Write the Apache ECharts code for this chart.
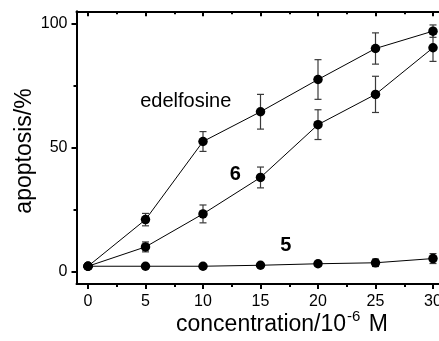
<!DOCTYPE html>
<html>
<head>
<meta charset="utf-8">
<script src="https://cdn.jsdelivr.net/npm/echarts@6/dist/echarts.min.js"></script>
<style>
html,body{margin:0;padding:0;background:#fff;overflow:hidden;}
#c{width:452px;height:341px;}
</style>
</head>
<body>
<div id="c"></div>
<script>
// ---- data ----
const conc = [0, 5, 10, 15, 20, 25, 30];
const edelfosine = [2.2, 21, 52.5, 64.5, 77.5, 90, 97];
const edelfosineErr = [0, 2.5, 4, 7, 8, 6.3, 2.5];
const comp6 = [2.2, 10, 23.3, 38, 59.3, 71.5, 90.3];
const comp6Err = [0, 2, 3.6, 4.2, 6, 7.3, 5.5];
const comp5 = [2.2, 2.2, 2.2, 2.6, 3.2, 3.6, 5.3];
const comp5Err = [0, 0.6, 0.5, 0.7, 0.9, 1.5, 2];
const xMajorTicks = [0, 5, 10, 15, 20, 25, 30];
const xMinorTicks = [2.5, 7.5, 12.5, 17.5, 22.5, 27.5];
const yMajorTicks = [0, 50, 100];
const yMinorTicks = [25, 75];
const noteText = ['edelfosine', '6', '5'];
const noteX = [8.5, 12.8, 17.2];
const noteY = [68.7, 39.3, 10.5];
const noteBold = [false, true, true];

const FONT = '"Liberation Sans", Arial, sans-serif';
const chart = echarts.init(document.getElementById('c'), null, {renderer: 'canvas'});

function pairs(vals) { return conc.map((x, i) => [x, vals[i]]); }
function errData(vals, errs) {
  const out = [];
  conc.forEach((x, i) => { if (errs[i] > 0) out.push([x, vals[i] - errs[i], vals[i] + errs[i]]); });
  return out;
}
function errSeries(vals, errs) {
  return {
    type: 'custom', xAxisIndex: 0, yAxisIndex: 0, z: 1,
    data: errData(vals, errs),
    renderItem: function (params, api) {
      const x = api.value(0);
      const lo = api.coord([x, api.value(1)]);
      const hi = api.coord([x, api.value(2)]);
      const hw = 3.5;
      const st = {stroke: '#3a3a3a', lineWidth: 1.2};
      return {type: 'group', children: [
        {type: 'line', shape: {x1: lo[0], y1: lo[1], x2: hi[0], y2: hi[1]}, style: st},
        {type: 'line', shape: {x1: lo[0] - hw, y1: lo[1], x2: lo[0] + hw, y2: lo[1]}, style: st},
        {type: 'line', shape: {x1: hi[0] - hw, y1: hi[1], x2: hi[0] + hw, y2: hi[1]}, style: st}
      ]};
    }
  };
}
function lineSeries(vals) {
  return {
    type: 'line', xAxisIndex: 0, yAxisIndex: 0, z: 3,
    data: pairs(vals), symbol: 'circle', symbolSize: 9.5,
    itemStyle: {color: '#000'}, lineStyle: {color: '#000', width: 1},
    animation: false
  };
}
const X0 = -1, X1 = 31, Y0 = -5, Y1 = 105;
function xAxis(pos, ticks, len, inside, showLine, showLabel) {
  return {
    type: 'value', position: pos, min: X0, max: X1, gridIndex: 0,
    splitLine: {show: false},
    axisLine: {show: showLine, onZero: false, lineStyle: {color: '#000', width: 2}},
    axisTick: {show: true, inside: inside, length: len, customValues: ticks, lineStyle: {color: '#000', width: 2}},
    axisLabel: showLabel ? {show: true, customValues: ticks, color: '#000', fontFamily: FONT, fontSize: 16, margin: 9} : {show: false}
  };
}
function yAxis(pos, ticks, len, inside, showLine, showLabel) {
  return {
    type: 'value', position: pos, min: Y0, max: Y1, gridIndex: 0,
    splitLine: {show: false},
    axisLine: {show: showLine, onZero: false, lineStyle: {color: '#000', width: 2}},
    axisTick: {show: true, inside: inside, length: len, customValues: ticks, lineStyle: {color: '#000', width: 2}},
    axisLabel: showLabel ? {show: true, customValues: ticks, color: '#000', fontFamily: FONT, fontSize: 16, margin: 9} : {show: false}
  };
}

const option = {
  animation: false,
  backgroundColor: '#fff',
  grid: {left: 76.5, top: 11.3, width: 368, height: 272.8, containLabel: false, outerBoundsMode: 'none'},
  xAxis: [
    xAxis('bottom', xMajorTicks, 5, false, true, true),
    xAxis('bottom', xMinorTicks, 3, false, false, false),
    xAxis('top', xMajorTicks, 5, true, true, false),
    xAxis('top', xMinorTicks, 3, true, false, false)
  ],
  yAxis: [
    yAxis('left', yMajorTicks, 5, false, true, true),
    yAxis('left', yMinorTicks, 3, false, false, false),
    yAxis('right', yMajorTicks, 5, true, true, false)
  ],
  series: [
    errSeries(edelfosine, edelfosineErr),
    errSeries(comp6, comp6Err),
    errSeries(comp5, comp5Err),
    lineSeries(edelfosine),
    lineSeries(comp6),
    lineSeries(comp5),
    {
      type: 'custom', xAxisIndex: 0, yAxisIndex: 0, z: 5,
      data: noteText.map((t, i) => [noteX[i], noteY[i], i]),
      renderItem: function (params, api) {
        const p = api.coord([api.value(0), api.value(1)]);
        const i = api.value(2);
        return {type: 'text', x: p[0], y: p[1], style: {
          text: noteText[i], fill: '#000', fontFamily: FONT,
          fontSize: 20, fontWeight: noteBold[i] ? 'bold' : 'normal',
          align: 'center', verticalAlign: 'middle'
        }};
      }
    }
  ],
  graphic: [
    {type: 'text', x: 25, y: 151, rotation: Math.PI / 2, style: {
      text: 'apoptosis/%', fill: '#000', font: '23px ' + FONT, align: 'center', verticalAlign: 'middle'}},
    {type: 'text', x: 282, y: 325, style: {
      text: 'concentration/10{sup|-6} M', fill: '#000', font: '23px ' + FONT, align: 'center', verticalAlign: 'middle',
      rich: {sup: {fontSize: 15, fontFamily: FONT, verticalAlign: 'top', padding: [0, 2, 16, 1]}}}}
  ]
};
chart.setOption(option);
</script>
</body>
</html>
